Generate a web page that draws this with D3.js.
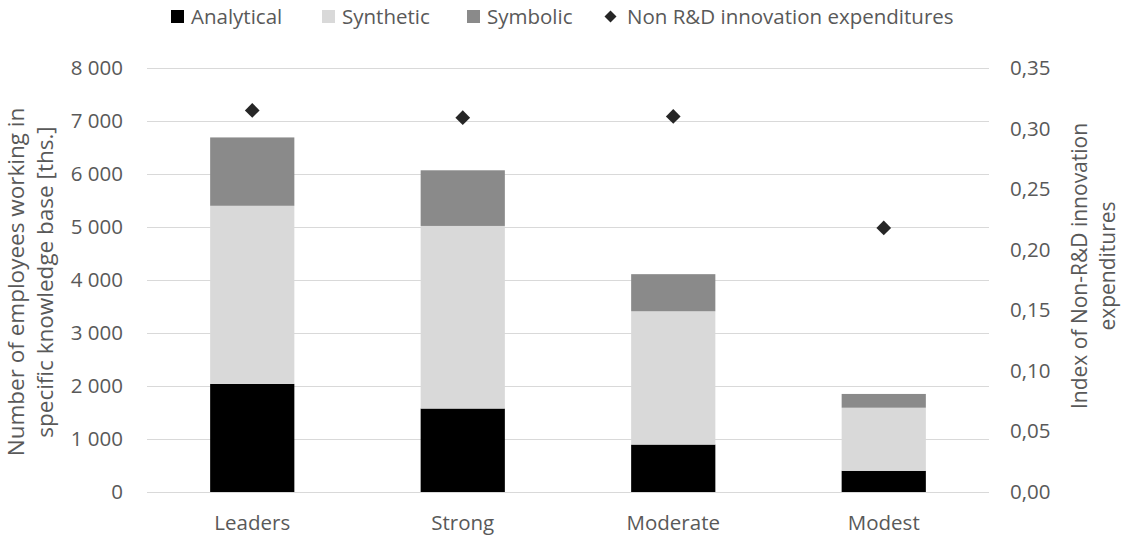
<!DOCTYPE html>
<html>
<head>
<meta charset="utf-8">
<script src="https://cdn.jsdelivr.net/npm/d3@7/dist/d3.min.js"></script>
<style>
  html, body { margin: 0; padding: 0; background: #fff; }
  svg { display: block; font-family: "Open Sans", "Noto Sans", sans-serif; }
</style>
</head>
<body>
<svg id="chart" width="1123" height="538"></svg>
<script>
// Knowledge-base employment by innovation group, with the non-R&D expenditure index
const categories = ["Leaders", "Strong", "Moderate", "Modest"];
const analytical = [2040, 1575, 895, 400];
const synthetic  = [3360, 3445, 2515, 1190];
const symbolic   = [1290, 1050, 700, 260];
const nonRnD     = [0.315, 0.309, 0.310, 0.218];

const leftTicks  = [0, 1000, 2000, 3000, 4000, 5000, 6000, 7000, 8000];
const rightTicks = [0, 0.05, 0.10, 0.15, 0.20, 0.25, 0.30, 0.35];

const seriesNames  = ["Analytical", "Synthetic", "Symbolic"];
const seriesColors = ["#000000", "#d9d9d9", "#8a8a8a"];
const markerName   = "Non R&D innovation expenditures";

const leftTitle  = ["Number of employees working in", "specific knowledge base [ths.]"];
const rightTitle = ["Index of Non-R&D innovation", "expenditures"];

const locale = d3.formatLocale({ decimal: ",", thousands: "\u00a0", grouping: [3], currency: ["", ""] });
const fmtLeft  = locale.format(",d");
const fmtRight = locale.format(".2f");

const svg = d3.select("#chart");
const textColor = "#595959";
const gridColor = "#d9d9d9";

const plot = { left: 147, right: 989, top: 68, bottom: 492 };

const x = d3.scaleBand()
  .domain(categories)
  .range([plot.left, plot.right])
  .paddingInner(0.6)
  .paddingOuter(0.3);

const y = d3.scaleLinear().domain([0, 8000]).range([plot.bottom, plot.top]);
const y2 = d3.scaleLinear().domain([0, 0.35]).range([plot.bottom, plot.top]);

// Gridlines
svg.append("g")
  .selectAll("line")
  .data(leftTicks)
  .join("line")
  .attr("x1", plot.left).attr("x2", plot.right)
  .attr("y1", d => Math.round(y(d)) + 0.5).attr("y2", d => Math.round(y(d)) + 0.5)
  .attr("stroke", gridColor).attr("stroke-width", 1.2);

// Stacked bars
const rows = categories.map((c, i) => ({
  category: c,
  Analytical: analytical[i],
  Synthetic: synthetic[i],
  Symbolic: symbolic[i]
}));
const stacked = d3.stack().keys(seriesNames)(rows);

svg.append("g")
  .selectAll("g")
  .data(stacked)
  .join("g")
  .attr("fill", (d, i) => seriesColors[i])
  .selectAll("rect")
  .data(d => d)
  .join("rect")
  .attr("x", d => x(d.data.category))
  .attr("width", x.bandwidth())
  .attr("y", d => y(d[1]))
  .attr("height", d => y(d[0]) - y(d[1]));

// Diamond markers on the secondary axis
const diamond = d3.symbol().type(d3.symbolSquare).size(108);
svg.append("g")
  .selectAll("path")
  .data(nonRnD)
  .join("path")
  .attr("d", diamond)
  .attr("transform", (d, i) => `translate(${x(categories[i]) + x.bandwidth() / 2},${y2(d)}) rotate(45)`)
  .attr("fill", "#262626");

// Left axis
const axisL = svg.append("g")
  .attr("transform", `translate(${plot.left},0)`)
  .call(d3.axisLeft(y).tickValues(leftTicks).tickFormat(fmtLeft).tickSize(0).tickPadding(24));
axisL.select(".domain").remove();
axisL.selectAll("text")
  .attr("fill", textColor)
  .style("font-family", '"Open Sans", sans-serif')
  .style("font-size", "20.5px");

// Right axis
const axisR = svg.append("g")
  .attr("transform", `translate(${plot.right},0)`)
  .call(d3.axisRight(y2).tickValues(rightTicks).tickFormat(fmtRight).tickSize(0).tickPadding(21));
axisR.select(".domain").remove();
axisR.selectAll("text")
  .attr("fill", textColor)
  .style("font-family", '"Open Sans", sans-serif')
  .style("font-size", "20.5px");

// Category axis
const axisB = svg.append("g")
  .attr("transform", `translate(0,${plot.bottom})`)
  .call(d3.axisBottom(x).tickSize(0).tickPadding(0));
axisB.select(".domain").remove();
axisB.selectAll("text")
  .attr("fill", textColor)
  .attr("y", 38)
  .attr("dy", 0)
  .style("font-family", '"Open Sans", sans-serif')
  .style("font-size", "20.5px");

// Axis titles
const lt = svg.append("text")
  .attr("transform", "translate(0,282) rotate(-90)")
  .attr("text-anchor", "middle")
  .attr("fill", textColor)
  .style("font-size", "22.5px");
lt.selectAll("tspan").data(leftTitle).join("tspan")
  .attr("x", 0)
  .attr("y", (d, i) => 24 + i * 29)
  .text(d => d);

const rt = svg.append("text")
  .attr("transform", "translate(0,266) rotate(-90)")
  .attr("text-anchor", "middle")
  .attr("fill", textColor)
  .style("font-size", "21px");
rt.selectAll("tspan").data(rightTitle).join("tspan")
  .attr("x", 0)
  .attr("y", (d, i) => 1087 + i * 28)
  .text(d => d);

// Legend
const legendItems = [
  { label: seriesNames[0], color: seriesColors[0], x: 171, kind: "square" },
  { label: seriesNames[1], color: seriesColors[1], x: 322, kind: "square" },
  { label: seriesNames[2], color: seriesColors[2], x: 467, kind: "square" },
  { label: markerName,     color: "#262626",       x: 604, kind: "diamond" }
];
const legend = svg.append("g");
const li = legend.selectAll("g").data(legendItems).join("g")
  .attr("transform", d => `translate(${d.x},0)`);
li.filter(d => d.kind === "square").append("rect")
  .attr("x", 0).attr("y", 10).attr("width", 13).attr("height", 13)
  .attr("fill", d => d.color);
li.filter(d => d.kind === "diamond").append("path")
  .attr("d", d3.symbol().type(d3.symbolSquare).size(72))
  .attr("transform", "translate(6.5,16.5) rotate(45)")
  .attr("fill", d => d.color);
li.append("text")
  .attr("x", d => d.kind === "square" ? 20 : 23)
  .attr("y", 23.5)
  .attr("fill", textColor)
  .style("font-size", "20.5px")
  .text(d => d.label);
</script>
</body>
</html>
